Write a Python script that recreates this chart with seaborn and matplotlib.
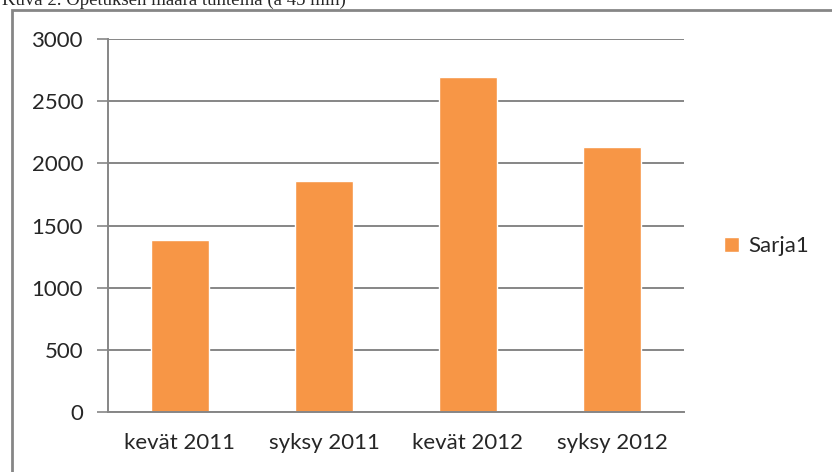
import numpy as np
import pandas as pd
import matplotlib
matplotlib.use("Agg")
import matplotlib.pyplot as plt
import seaborn as sns
from matplotlib.patches import Patch, Rectangle

# data
categories = ["kevät 2011", "syksy 2011", "kevät 2012", "syksy 2012"]
values     = [1385, 1858, 2697, 2131]
series     = "Sarja1"
yticks     = [0, 500, 1000, 1500, 2000, 2500, 3000]
caption    = "Kuva 2. Opetuksen määrä tunteina (à 45 min)"

ORANGE = "#F79646"
GRID   = "#868686"

sns.set_style("white")
plt.rcParams["font.family"] = ["Lato", "DejaVu Sans"]

df = pd.DataFrame({"kausi": categories, "tunnit": values})

fig = plt.figure(figsize=(8.32, 4.72), dpi=100)
ax = fig.add_axes([108 / 832, 1 - 412 / 472, (684 - 108) / 832, (412 - 39) / 472])

sns.barplot(data=df, x="kausi", y="tunnit", color=ORANGE, width=0.4,
            saturation=1, ax=ax)

ax.set_ylim(0, 3000)
ax.set_xlim(-0.5, len(categories) - 0.5)
ax.set_yticks(yticks)
ax.set_yticklabels([str(t) for t in yticks], fontsize=16)
ax.set_xticklabels(categories, fontsize=16)
ax.set_xlabel("")
ax.set_ylabel("")

# gridlines
ax.yaxis.grid(True, color=GRID, lw=1.4)
ax.set_axisbelow(True)

for side in ["top", "right"]:
    ax.spines[side].set_visible(False)
for side in ["left", "bottom"]:
    ax.spines[side].set_color(GRID)
    ax.spines[side].set_linewidth(1.4)

# category boundary ticks on x, outward ticks on y
ax.tick_params(axis="x", which="major", length=0, pad=15)
ax.set_xticks(np.arange(-0.5, len(categories)), minor=True)
ax.tick_params(axis="x", which="minor", length=8, width=1.2, color=GRID, direction="out")
ax.tick_params(axis="y", which="major", length=8, width=1.2, color=GRID, pad=10, left=True)

ax.legend(handles=[Patch(facecolor=ORANGE, label=series)], loc="center left",
          bbox_to_anchor=(1.035, 0.445), frameon=False, fontsize=16,
          handlelength=0.65, handleheight=0.65, handletextpad=0.45)

# outer chart border
fig.patches.append(Rectangle((12 / 832, -0.2), 1.0, 1.2 - 10 / 472,
                             transform=fig.transFigure, fill=False,
                             edgecolor=GRID, lw=2, zorder=0))

# caption, cut off at the top edge as in the original
fig.text(2 / 832, 1 - 5 / 472, caption, family=["Liberation Serif"],
         fontsize=13.5, va="baseline", ha="left")

fig.savefig("out.png", dpi=100)
